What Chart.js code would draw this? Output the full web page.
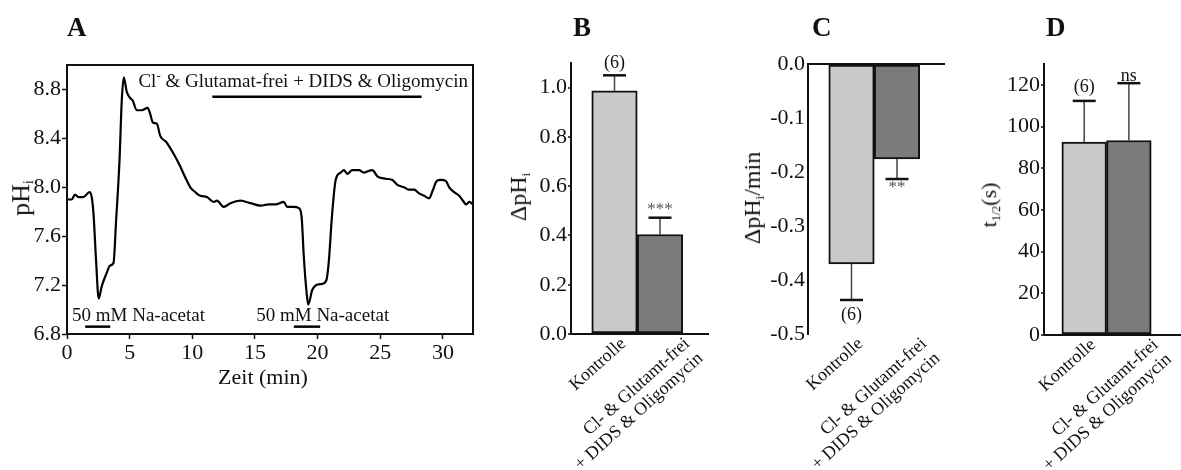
<!DOCTYPE html>
<html>
<head>
<meta charset="utf-8">
<script src="https://cdn.jsdelivr.net/npm/chart.js@4"></script>
<style>
  body { margin: 0; background: #fff; width: 1181px; height: 470px; overflow: hidden; position: relative;
         font-family: "Liberation Serif", serif; color: #111; }
  canvas { position: absolute; top: 0; }
  .buchstabe { position: absolute; top: 14px; font-weight: bold; font-size: 27px; line-height: 1; }
  .titel { position: absolute; white-space: nowrap; transform: translate(-50%, -50%) rotate(-90deg); line-height: 1; }
  .xtitel { position: absolute; white-space: nowrap; transform: translate(-50%, -50%); line-height: 1; }
  sub { font-size: 0.55em; vertical-align: -0.3em; }
</style>
</head>
<body>
<canvas id="cA" width="490" height="400" style="left:0px"></canvas>
<canvas id="cB" width="220" height="470" style="left:500px"></canvas>
<canvas id="cC" width="220" height="470" style="left:740px"></canvas>
<canvas id="cD" width="221" height="470" style="left:960px"></canvas>

<div class="buchstabe" style="left:67px">A</div>
<div class="buchstabe" style="left:573px">B</div>
<div class="buchstabe" style="left:812px">C</div>
<div class="buchstabe" style="left:1046px">D</div>

<div class="titel" style="left:22px; top:198px; font-size:26px">pH<sub>i</sub></div>
<div class="xtitel" style="left:263px; top:377px; font-size:22px">Zeit (min)</div>
<div class="titel" style="left:519px; top:197px; font-size:24px">&Delta;pH<sub>i</sub></div>
<div class="titel" style="left:753px; top:198px; font-size:24px">&Delta;pH<sub>i</sub>/min</div>
<div class="titel" style="left:990px; top:205px; font-size:22px">t<sub>1/2</sub>(s)</div>

<script>
// Panel A: pHi-Verlauf
const zeit = [0, 0.37, 0.64, 0.91, 1.31, 1.79, 1.97, 2.11, 2.32, 2.53,
  2.77, 3.17, 3.44, 3.71, 3.92, 4.19, 4.37, 4.53, 4.77, 5.04,
  5.24, 5.57, 5.97, 6.43, 6.64, 6.85, 7.17, 7.44, 7.92, 8.24,
  8.64, 9.04, 9.44, 9.84, 10.24, 10.64, 11.17, 11.71, 11.97, 12.51,
  13.04, 13.84, 14.64, 15.44, 16.1, 16.64, 17.3, 17.57, 18.1, 18.5,
  18.72, 18.9, 19.1, 19.25, 19.57, 19.9, 20.37, 20.7, 20.9, 21.12,
  21.44, 21.84, 22.1, 22.37, 22.77, 23.3, 23.7, 23.97, 24.37, 24.77,
  25.44, 25.97, 26.37, 26.9, 27.3, 27.7, 28.1, 28.5, 28.9, 29.17,
  29.5, 29.84, 30.24, 30.5, 30.9, 31.3, 31.6, 31.84, 32.1, 32.4];
const phi = [7.90, 7.90, 7.94, 7.92, 7.92, 7.96, 7.92, 7.79, 7.40, 7.09,
  7.19, 7.30, 7.36, 7.38, 7.73, 8.22, 8.71, 8.90, 8.78, 8.73,
  8.71, 8.63, 8.63, 8.65, 8.60, 8.53, 8.52, 8.42, 8.37, 8.32,
  8.25, 8.17, 8.08, 8.00, 7.96, 7.93, 7.92, 7.88, 7.89, 7.84,
  7.87, 7.89, 7.87, 7.85, 7.86, 7.86, 7.88, 7.84, 7.84, 7.83,
  7.76, 7.43, 7.16, 7.04, 7.16, 7.20, 7.21, 7.24, 7.40, 7.73,
  8.06, 8.12, 8.14, 8.11, 8.14, 8.14, 8.12, 8.13, 8.14, 8.09,
  8.07, 8.06, 8.02, 8.00, 7.98, 7.98, 7.95, 7.93, 7.91, 7.97,
  8.05, 8.06, 8.05, 8.00, 7.96, 7.93, 7.89, 7.86, 7.88, 7.86];
// Applikationsbalken (Zeit in min, Hoehe in pH)
const naPuls1 = [1.45, 3.45];
const naPuls2 = [18.1, 20.2];
const naPulsPh = 6.86;
const clFrei = [11.6, 28.3];
const clFreiPh = 8.74;

// Panels B-D
const gruppen = ['Kontrolle', ['Cl- & Glutamt-frei', '+ DIDS & Oligomycin']];
const deltaPh = [0.987, 0.404];
const deltaPhSem = [0.063, 0.068];
const deltaPhMarken = ['(6)', '***'];
const rate = [-0.37, -0.176];
const rateSem = [0.067, 0.037];
const rateMarken = ['(6)', '**'];
const tHalb = [92.5, 93.3];
const tHalbSem = [19.8, 27.5];
const tHalbMarken = ['(6)', 'ns'];

const hell = '#c9c9c9', dunkel = '#7b7b7b', schwarz = '#111';
const schrift = '"Liberation Serif", serif';
Chart.defaults.font.family = schrift;
Chart.defaults.color = schwarz;

// Rahmen um Panel A
const rahmen = {
  id: 'rahmen',
  afterDatasetsDraw(chart) {
    const { ctx, chartArea: a } = chart;
    ctx.save();
    ctx.strokeStyle = schwarz;
    ctx.lineWidth = 2;
    ctx.strokeRect(a.left, a.top, a.right - a.left, a.bottom - a.top);
    ctx.restore();
  }
};

// Beschriftung in Panel A
const textA = {
  id: 'textA',
  afterDatasetsDraw(chart) {
    const { ctx, scales: { x, y } } = chart;
    ctx.save();
    ctx.fillStyle = schwarz;
    ctx.font = '19px ' + schrift;
    ctx.textBaseline = 'middle';
    ctx.textAlign = 'left';
    ctx.fillText('50 mM Na-acetat', x.getPixelForValue(0.4), y.getPixelForValue(6.95));
    ctx.fillText('50 mM Na-acetat', x.getPixelForValue(15.1), y.getPixelForValue(6.95));
    // "Cl" mit hochgestelltem Minus
    const rest = ' & Glutamat-frei + DIDS & Oligomycin';
    const r = x.getPixelForValue(32.0), ym = y.getPixelForValue(8.86);
    ctx.textAlign = 'right';
    ctx.fillText(rest, r, ym);
    const wr = ctx.measureText(rest).width;
    ctx.font = '13px ' + schrift;
    const wm = ctx.measureText('-').width;
    ctx.fillText('-', r - wr, ym - 6);
    ctx.font = '19px ' + schrift;
    ctx.fillText('Cl', r - wr - wm, ym);
    ctx.restore();
  }
};

new Chart(document.getElementById('cA'), {
  type: 'line',
  data: {
    datasets: [
      { data: zeit.map((t, i) => ({ x: t, y: phi[i] })), borderColor: '#000', borderWidth: 2.2,
        pointRadius: 0, cubicInterpolationMode: 'monotone' },
      { data: naPuls1.map(t => ({ x: t, y: naPulsPh })), borderColor: '#000', borderWidth: 2.5, pointRadius: 0 },
      { data: naPuls2.map(t => ({ x: t, y: naPulsPh })), borderColor: '#000', borderWidth: 2.5, pointRadius: 0 },
      { data: clFrei.map(t => ({ x: t, y: clFreiPh })), borderColor: '#000', borderWidth: 2.5, pointRadius: 0 }
    ]
  },
  options: {
    responsive: false,
    animation: false,
    layout: { padding: { top: 65, right: 17, left: 0, bottom: 0 } },
    plugins: { legend: { display: false }, tooltip: { enabled: false } },
    scales: {
      x: {
        type: 'linear', min: 0, max: 32.4,
        border: { display: false },
        grid: { drawOnChartArea: false, tickLength: 5, tickColor: schwarz, tickWidth: 1.5 },
        ticks: { stepSize: 5, includeBounds: false, padding: 1, maxRotation: 0, font: { size: 22 }, color: schwarz },
        afterFit: s => { s.height = 66; s.paddingLeft = 0; s.paddingRight = 0; }
      },
      y: {
        min: 6.8, max: 9.0,
        border: { display: false },
        grid: { drawOnChartArea: false, tickLength: 5, tickColor: schwarz, tickWidth: 1.5 },
        ticks: { stepSize: 0.2, padding: 1, font: { size: 22 }, color: schwarz,
          callback: v => Math.round(v * 10) % 4 === 0 ? v.toFixed(1) : '' },
        afterFit: s => { s.width = 67; }
      }
    }
  },
  plugins: [rahmen, textA]
});

// Fehlerbalken + Beschriftung
function fehlerPlugin(fehler, marken, abstand) {
  return {
    id: 'fehler',
    afterDatasetsDraw(chart) {
      const { ctx, scales: { y } } = chart;
      const werte = chart.data.datasets[0].data;
      ctx.save();
      chart.getDatasetMeta(0).data.forEach((bar, i) => {
        const w = werte[i].y;
        const ende = y.getPixelForValue(w + (w < 0 ? -1 : 1) * fehler[i]);
        ctx.strokeStyle = '#444';
        ctx.lineWidth = 1.5;
        ctx.beginPath(); ctx.moveTo(bar.x, bar.y); ctx.lineTo(bar.x, ende); ctx.stroke();
        ctx.strokeStyle = schwarz;
        ctx.lineWidth = 2.5;
        ctx.beginPath(); ctx.moveTo(bar.x - 11.5, ende); ctx.lineTo(bar.x + 11.5, ende); ctx.stroke();
        const stern = marken[i].startsWith('*');
        ctx.font = (stern ? '17px ' : '18px ') + schrift;
        ctx.fillStyle = stern ? '#555' : schwarz;
        ctx.textAlign = 'center';
        ctx.textBaseline = 'middle';
        ctx.fillText(marken[i], bar.x, ende + abstand[i]);
      });
      ctx.restore();
    }
  };
}

// Etiketten der zweiten Gruppe sitzen im Original etwas weiter rechts
const etikettVersatz = [0, 0.4];

function balken(id, werte, fehler, marken, c) {
  new Chart(document.getElementById(id), {
    type: 'bar',
    data: {
      datasets: [{
        data: werte.map((v, i) => ({ x: i + 1, y: v })),
        backgroundColor: [hell, dunkel], borderColor: schwarz, borderWidth: 2,
        borderSkipped: false, barPercentage: 1, categoryPercentage: 1
      }]
    },
    options: {
      responsive: false,
      animation: false,
      layout: { padding: { top: c.oben, right: c.rechts, left: 0, bottom: 0 } },
      plugins: { legend: { display: false }, tooltip: { enabled: false } },
      scales: {
        x: {
          type: 'linear', min: c.xmin, max: c.xmax, offset: false,
          grid: { display: false, drawTicks: false, tickLength: 0 },
          border: { display: c.xLinie, color: schwarz, width: 2 },
          afterBuildTicks: s => { s.ticks = gruppen.map((g, i) => ({ value: i + 1 + etikettVersatz[i] })); },
          ticks: { autoSkip: false, minRotation: 42, maxRotation: 42, labelOffset: 9, padding: 0,
            font: { size: 18, lineHeight: 1.1 }, color: schwarz, callback: (v, i) => gruppen[i] },
          afterFit: s => { s.height = c.xHoehe; s.paddingLeft = 0; s.paddingRight = 0; }
        },
        y: {
          min: c.ymin, max: c.ymax,
          border: { color: schwarz, width: 2 },
          grid: {
            drawOnChartArea: !c.xLinie,
            drawTicks: c.striche,
            tickLength: 3, tickWidth: 1.5, tickColor: schwarz,
            lineWidth: 2,
            color: ctx => (ctx.tick && ctx.tick.value === 0) ? schwarz : 'rgba(0,0,0,0)'
          },
          ticks: { stepSize: c.schritt, padding: c.striche ? 1 : 3, font: { size: 22 }, color: schwarz,
            callback: c.etikett },
          afterFit: s => { s.width = c.yBreite; }
        }
      }
    },
    plugins: [fehlerPlugin(fehler, marken, c.abstand)]
  });
}

balken('cB', deltaPh, deltaPhSem, deltaPhMarken, {
  oben: 63, rechts: 12, xHoehe: 136, yBreite: 71, xmin: 0.044, xmax: 3.055, xLinie: true,
  ymin: 0, ymax: 1.1, schritt: 0.1, striche: true, abstand: [-12, -8],
  etikett: v => Math.round(v * 10) % 2 === 0 ? v.toFixed(1) : ''
});
balken('cC', rate, rateSem, rateMarken, {
  oben: 64, rechts: 15, xHoehe: 136, yBreite: 68, xmin: 0.044, xmax: 3.055, xLinie: false,
  ymin: -0.5, ymax: 0, schritt: 0.1, striche: false, abstand: [15, 9],
  etikett: v => v.toFixed(1)
});
balken('cD', tHalb, tHalbSem, tHalbMarken, {
  oben: 64, rechts: 0, xHoehe: 135, yBreite: 84, xmin: 0.1, xmax: 3.167, xLinie: true,
  ymin: 0, ymax: 130, schritt: 10, striche: true, abstand: [-14, -7],
  etikett: v => Math.round(v) % 20 === 0 ? String(Math.round(v)) : ''
});
</script>
</body>
</html>
